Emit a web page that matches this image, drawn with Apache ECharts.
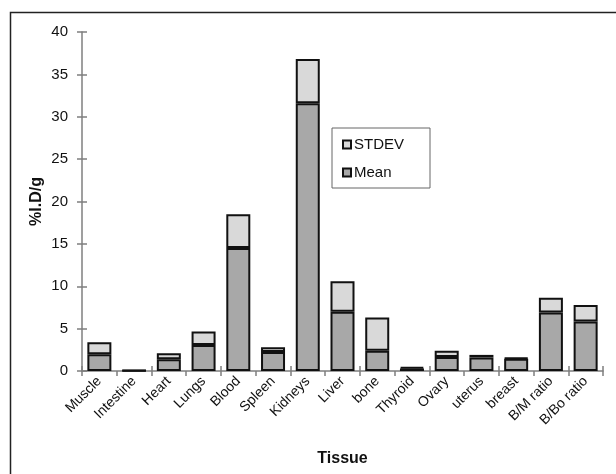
<!DOCTYPE html>
<html>
<head>
<meta charset="utf-8">
<script src="https://cdn.jsdelivr.net/npm/echarts@6/dist/echarts.min.js"></script>
<style>
  html, body { margin: 0; padding: 0; background: #fff; }
  #chart { width: 616px; height: 474px; }
</style>
</head>
<body>
<div id="chart"></div>
<script>
const tissues = ["Muscle", "Intestine", "Heart", "Lungs", "Blood", "Spleen", "Kidneys", "Liver",
  "bone", "Thyroid", "Ovary", "uterus", "breast", "B/M ratio", "B/Bo ratio"];
const meanVals = [1.97, 0.05, 1.4, 3.07, 14.5, 2.24, 31.6, 7.0, 2.4, 0.3, 1.65, 1.6, 1.45, 6.9, 5.85];
const stdevVals = [1.43, 0.03, 0.7, 1.58, 4.0, 0.56, 5.2, 3.6, 3.9, 0.15, 0.75, 0.3, 0.1, 1.75, 1.95];
const yTicks = [0, 5, 10, 15, 20, 25, 30, 35, 40];

const font = "Liberation Sans";
const axisGray = "#7f7f7f";

const chart = echarts.init(document.getElementById("chart"));

const option = {
  animation: false,
  textStyle: { fontFamily: font },
  grid: { left: 82, right: 13, top: 32, bottom: 103, outerBoundsMode: "none" },
  graphic: [
    {
      // outer frame (left and top edges visible)
      type: "rect",
      shape: { x: 10.5, y: 12.5, width: 640, height: 500 },
      style: { fill: null, stroke: "#222", lineWidth: 1.5 },
      silent: true
    }
  ],
  legend: {
    data: ["STDEV", "Mean"],
    orient: "vertical",
    left: 332,
    top: 128,
    itemWidth: 8,
    itemHeight: 8,
    itemGap: 13,
    icon: "rect",
    padding: [9, 26, 8, 10],
    borderColor: "#666",
    borderWidth: 1,
    textStyle: { fontFamily: font, fontSize: 15, color: "#111", padding: [0, 0, 0, -2] }
  },
  xAxis: [
    {
      type: "category",
      data: tissues,
      name: "Tissue",
      nameLocation: "middle",
      nameGap: 80,
      nameMoveOverlap: false,
      nameTextStyle: { fontFamily: font, fontSize: 16, fontWeight: "bold", color: "#111" },
      axisLine: { lineStyle: { color: axisGray, width: 1.5 } },
      axisTick: { show: true, length: 5, lineStyle: { color: axisGray, width: 1.5 } },
      axisLabel: { rotate: 45, fontSize: 14, color: "#111", margin: 8, interval: 0 },
      splitLine: { show: false }
    },
    {
      type: "category",
      data: tissues,
      position: "bottom",
      axisLine: { show: false },
      axisTick: { show: true, inside: true, length: 5, lineStyle: { color: axisGray, width: 1.5 } },
      axisLabel: { show: false },
      splitLine: { show: false }
    }
  ],
  yAxis: [
    {
      type: "value",
      min: yTicks[0],
      max: yTicks[yTicks.length - 1],
      interval: 5,
      name: "%I.D/g",
      nameLocation: "middle",
      nameGap: 37,
      nameMoveOverlap: false,
      nameTextStyle: { fontFamily: font, fontSize: 16, fontWeight: "bold", color: "#111" },
      axisLine: { show: true, lineStyle: { color: axisGray, width: 1.5 } },
      axisTick: { show: true, length: 5, lineStyle: { color: axisGray, width: 1.5 } },
      axisLabel: { fontSize: 15, color: "#111", margin: 14 },
      splitLine: { show: false }
    },
    {
      type: "value",
      min: yTicks[0],
      max: yTicks[yTicks.length - 1],
      interval: 5,
      position: "left",
      axisLine: { show: false },
      axisTick: { show: true, inside: true, length: 5, lineStyle: { color: axisGray, width: 1.5 } },
      axisLabel: { show: false },
      splitLine: { show: false }
    }
  ],
  series: [
    {
      name: "Mean",
      type: "bar",
      stack: "t",
      data: meanVals,
      barWidth: 24,
      itemStyle: { color: "#a8a8a8", borderColor: "#111", borderWidth: 2 }
    },
    {
      name: "STDEV",
      type: "bar",
      stack: "t",
      data: stdevVals,
      barWidth: 24,
      itemStyle: { color: "#d9d9d9", borderColor: "#111", borderWidth: 2 }
    }
  ]
};

chart.setOption(option);
</script>
</body>
</html>
